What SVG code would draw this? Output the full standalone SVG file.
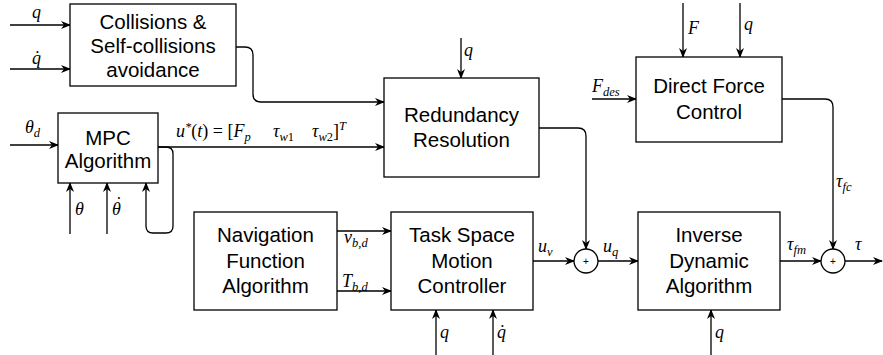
<svg xmlns="http://www.w3.org/2000/svg" width="883" height="355" viewBox="0 0 883 355">
  <defs>
    <marker id="arrow" markerWidth="10" markerHeight="8" refX="9" refY="4" orient="auto" markerUnits="userSpaceOnUse">
      <path d="M0,0 L10,4 L0,8 L3,4 Z" fill="#000"/>
    </marker>
    <style>
      .box { fill: #fff; stroke: #000; stroke-width: 1.3; }
      .sum { fill: #fff; stroke: #000; stroke-width: 1.3; }
      .wire { fill: none; stroke: #000; stroke-width: 1.3; marker-end: url(#arrow); }
      .lbl { font-family: "Liberation Sans", Arial, sans-serif; font-size: 20.5px; fill: #000; text-anchor: middle; }
      .math { font-family: "Liberation Serif", "DejaVu Serif", serif; font-style: italic; font-size: 18px; fill: #000; }
      .sub { font-size: 12.5px; }
      .up { font-style: normal; }
      .plus { font-family: "Liberation Sans", Arial, sans-serif; font-size: 10px; fill: #000; text-anchor: middle; }
    </style>
  </defs>

  <!-- connectors -->
  <g id="connectors">
    <!-- inputs to collision avoidance -->
    <line class="wire" x1="10" y1="25" x2="70" y2="25"/>
    <line class="wire" x1="10" y1="69" x2="70" y2="69"/>
    <!-- collision avoidance to redundancy resolution -->
    <path class="wire" d="M236,47 H245 Q253,47 253,55 V94 Q253,102 261,102 H384"/>
    <!-- MPC inputs -->
    <line class="wire" x1="10" y1="145" x2="58" y2="145"/>
    <line class="wire" x1="70" y1="234" x2="70" y2="183"/>
    <line class="wire" x1="107" y1="234" x2="107" y2="183"/>
    <!-- MPC output to redundancy resolution -->
    <line class="wire" x1="158" y1="147" x2="384" y2="147"/>
    <!-- MPC feedback loop -->
    <path class="wire" d="M158,147 H166 Q173,147 173,154 V226 Q173,233 166,233 H153 Q146,233 146,226 V183"/>
    <!-- q into redundancy resolution -->
    <line class="wire" x1="461" y1="38" x2="461" y2="78"/>
    <!-- redundancy resolution to summing junction -->
    <path class="wire" d="M539,128 H578 Q586,128 586,136 V249"/>
    <!-- navigation to task space -->
    <line class="wire" x1="337" y1="231" x2="391" y2="231"/>
    <line class="wire" x1="337" y1="291" x2="391" y2="291"/>
    <!-- task space inputs -->
    <line class="wire" x1="436" y1="355" x2="436" y2="310"/>
    <line class="wire" x1="493" y1="355" x2="493" y2="310"/>
    <!-- task space to summing junction -->
    <line class="wire" x1="533" y1="261" x2="574" y2="261"/>
    <!-- sum to inverse dynamics -->
    <line class="wire" x1="598" y1="261" x2="638" y2="261"/>
    <!-- q into inverse dynamics -->
    <line class="wire" x1="711" y1="355" x2="711" y2="310"/>
    <!-- inverse dynamics to output sum -->
    <line class="wire" x1="780" y1="261" x2="821" y2="261"/>
    <!-- output torque -->
    <line class="wire" x1="845" y1="261" x2="882" y2="261"/>
    <!-- direct force control inputs -->
    <line class="wire" x1="683" y1="3" x2="683" y2="57"/>
    <line class="wire" x1="740" y1="3" x2="740" y2="57"/>
    <line class="wire" x1="592" y1="99" x2="636" y2="99"/>
    <!-- direct force control to output sum -->
    <path class="wire" d="M782,99 H825 Q833,99 833,107 V249"/>
  </g>

  <!-- blocks -->
  <g id="collisions">
    <rect class="box" x="70" y="4" width="166" height="82"/>
    <text class="lbl" x="153" y="29">Collisions &amp;</text>
    <text class="lbl" x="153" y="53">Self-collisions</text>
    <text class="lbl" x="153" y="77">avoidance</text>
  </g>
  <g id="mpc">
    <rect class="box" x="58" y="113" width="100" height="70"/>
    <text class="lbl" x="108" y="145">MPC</text>
    <text class="lbl" x="108" y="168">Algorithm</text>
  </g>
  <g id="redundancy">
    <rect class="box" x="384" y="78" width="155" height="99"/>
    <text class="lbl" x="461.5" y="122">Redundancy</text>
    <text class="lbl" x="461.5" y="147">Resolution</text>
  </g>
  <g id="navigation">
    <rect class="box" x="194" y="212" width="143" height="98"/>
    <text class="lbl" x="265.5" y="242">Navigation</text>
    <text class="lbl" x="265.5" y="268">Function</text>
    <text class="lbl" x="265.5" y="293">Algorithm</text>
  </g>
  <g id="taskspace">
    <rect class="box" x="391" y="212" width="142" height="98"/>
    <text class="lbl" x="462" y="242">Task Space</text>
    <text class="lbl" x="462" y="268">Motion</text>
    <text class="lbl" x="462" y="293">Controller</text>
  </g>
  <g id="inverse">
    <rect class="box" x="638" y="212" width="142" height="98"/>
    <text class="lbl" x="709" y="242">Inverse</text>
    <text class="lbl" x="709" y="268">Dynamic</text>
    <text class="lbl" x="709" y="293">Algorithm</text>
  </g>
  <g id="forcecontrol">
    <rect class="box" x="636" y="57" width="146" height="85"/>
    <text class="lbl" x="709" y="93">Direct Force</text>
    <text class="lbl" x="709" y="119">Control</text>
  </g>
  <g id="sum1">
    <circle class="sum" cx="586" cy="261" r="12"/>
    <text class="plus" x="586" y="265">+</text>
  </g>
  <g id="sum2">
    <circle class="sum" cx="833" cy="261" r="12"/>
    <text class="plus" x="833" y="265">+</text>
  </g>

  <!-- signal labels -->
  <g id="labels">
    <text class="math" x="32" y="18">q</text>
    <text class="math" x="32" y="64">q̇</text>
    <text class="math" x="25" y="133">θ<tspan class="sub" dy="4">d</tspan></text>
    <text class="math" x="176" y="137">u<tspan class="sub" dy="-6">*</tspan><tspan class="up" dy="6">(</tspan>t<tspan class="up">) = [</tspan>F<tspan class="sub" dy="4">p</tspan><tspan x="273" dy="-4">τ</tspan><tspan class="sub" dy="4">w<tspan class="up">1</tspan></tspan><tspan x="312" dy="-4">τ</tspan><tspan class="sub" dy="4">w<tspan class="up">2</tspan></tspan><tspan class="up" dy="-4">]</tspan><tspan class="sub" dy="-7">T</tspan></text>
    <text class="math" x="75" y="215">θ</text>
    <text class="math" x="112" y="215">θ<tspan dx="-6" dy="-5">˙</tspan></text>
    <text class="math" x="464" y="56">q</text>
    <text class="math" x="344" y="243">ν<tspan class="sub" dy="4">b,d</tspan></text>
    <text class="math" x="342" y="287">T<tspan class="sub" dy="4">b,d</tspan></text>
    <text class="math" x="440" y="338">q</text>
    <text class="math" x="497" y="338">q̇</text>
    <text class="math" x="538" y="252">u<tspan class="sub" dy="4">v</tspan></text>
    <text class="math" x="603" y="252">u<tspan class="sub" dy="4">q</tspan></text>
    <text class="math" x="715" y="338">q</text>
    <text class="math" x="787" y="250">τ<tspan class="sub" dy="4">fm</tspan></text>
    <text class="math" x="855" y="250">τ</text>
    <text class="math" x="688" y="34">F</text>
    <text class="math" x="744" y="30">q</text>
    <text class="math" x="592" y="92">F<tspan class="sub" dy="4">des</tspan></text>
    <text class="math" x="836" y="187">τ<tspan class="sub" dy="4">fc</tspan></text>
  </g>
</svg>
